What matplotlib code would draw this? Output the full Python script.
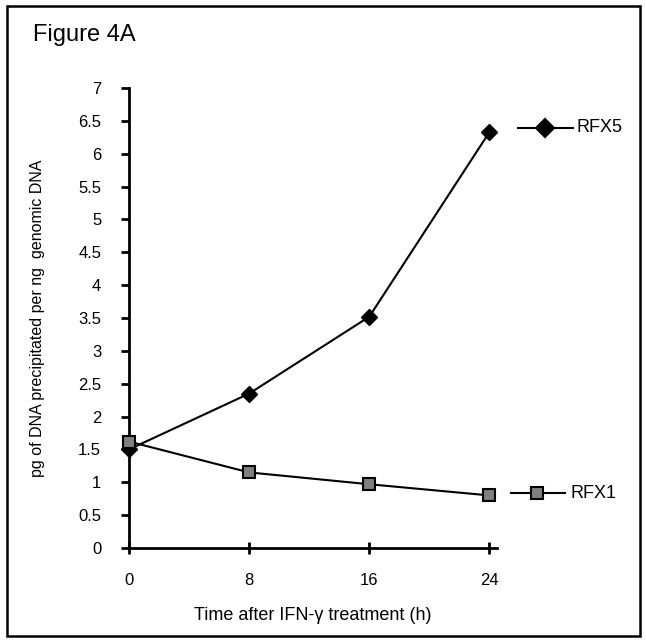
import matplotlib
matplotlib.use("Agg")
import matplotlib.pyplot as plt
from matplotlib.lines import Line2D
from matplotlib.patches import Rectangle

plt.rcParams['font.family'] = ['Liberation Sans', 'DejaVu Sans']

hours = [0, 8, 16, 24]
rfx5 = [1.5, 2.35, 3.52, 6.33]
rfx1 = [1.62, 1.15, 0.97, 0.80]
yticks = [0, 0.5, 1, 1.5, 2, 2.5, 3, 3.5, 4, 4.5, 5, 5.5, 6, 6.5, 7]
ytick_labels = ['0', '0.5', '1', '1.5', '2', '2.5', '3', '3.5', '4', '4.5', '5', '5.5', '6', '6.5', '7']

fig = plt.figure(figsize=(6.46, 6.42), dpi=100)
fig.patches.append(Rectangle((7/646, 6/642), 633/646, 630/642, transform=fig.transFigure,
                             fill=False, edgecolor='black', linewidth=1.8))

ax = fig.add_axes([129/646, 1-548/642, 368/646, 460/642])
ax.plot(hours, rfx5, color='black', lw=1.5, marker='D', ms=8, mfc='black', mec='black', clip_on=False, zorder=3)
ax.plot(hours, rfx1, color='black', lw=1.5, marker='s', ms=8, mfc='#808080', mec='black', mew=1.5, clip_on=False, zorder=4)

ax.set_xlim(0, 24.5)
ax.set_ylim(0, 7)
ax.set_xticks(hours)
ax.set_yticks(yticks)
ax.set_yticklabels(ytick_labels)
for s in ['top', 'right']:
    ax.spines[s].set_visible(False)
for s in ['left', 'bottom']:
    ax.spines[s].set_linewidth(2)
ax.tick_params(axis='y', direction='out', length=6, width=2, labelsize=12, pad=14)
ax.tick_params(axis='x', direction='inout', length=8, width=2, labelsize=12, pad=14)
ax.set_xlabel('Time after IFN-γ treatment (h)', fontsize=13, labelpad=14)
ax.set_ylabel('pg of DNA precipitated per ng  genomic DNA', fontsize=11.5, labelpad=24)

fig.text(33/646, 1-35/642, 'Figure 4A', fontsize=17, va='center', ha='left')

# legend entries
def legend_entry(y, marker, mfc, label, x0, x1, xm, xt):
    fig.add_artist(Line2D([x0/646, x1/646], [1-y/642, 1-y/642], color='black', lw=1.5,
                          transform=fig.transFigure))
    fig.add_artist(Line2D([xm/646], [1-y/642], marker=marker, ms=9, mfc=mfc, mec='black',
                          mew=1.5, lw=0, transform=fig.transFigure))
    fig.text(xt/646, 1-y/642, label, fontsize=13, va='center', ha='left')

legend_entry(128, 'D', 'black', 'RFX5', 518, 573, 545, 577)
legend_entry(493, 's', '#808080', 'RFX1', 511, 565, 537, 571)

fig.savefig('out.png', dpi=100)
